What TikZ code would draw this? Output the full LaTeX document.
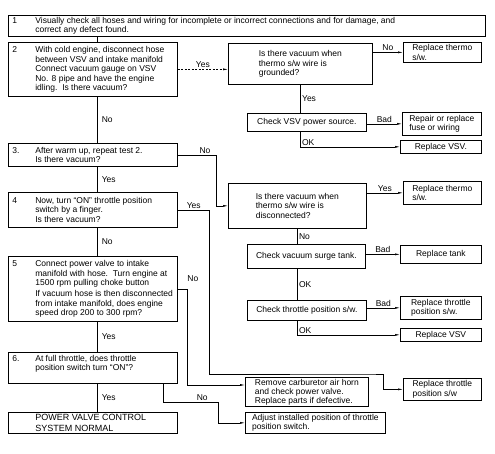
\documentclass[tikz,border=0pt]{standalone}
\usepackage{fontspec}
\setmainfont{Liberation Sans}
\usetikzlibrary{arrows.meta}
\usetikzlibrary{positioning}

\newcommand{\numtext}[3]{\makebox[23pt][l]{#1}\parbox[t]{#2}{#3}}

\begin{document}
\begin{tikzpicture}[x=1pt,y=-1pt]
	\tikzset{stepbox/.style = {draw, line width=0.7pt, anchor=north west,
			inner xsep=4pt, inner ysep=0pt, font=\fontsize{8.5}{9.5}\selectfont}}
	\tikzset{checkbox/.style = {draw, line width=0.7pt, anchor=north west,
			align=left, inner xsep=0pt, inner ysep=1.5pt, font=\fontsize{8.5}{9.5}\selectfont}}
	\tikzset{link/.style = {line width=0.5pt}}
	\tikzset{edge/.style = {link, -{Latex[length=5pt,width=2pt]}}}
	\tikzset{lbl/.style = {font=\fontsize{8.5}{9.5}\selectfont, inner sep=1.5pt}}
	
	\useasboundingbox (0,0) rectangle (495,453);
	
	% steps
	\node[stepbox, minimum width=477pt, minimum height=21pt] (s1) at (8,15)
	{\numtext{1}{446pt}{Visually check all hoses and wiring for incomplete or incorrect connections and for damage, and\\ correct any defect found.}};
	\node[stepbox, minimum width=169pt, minimum height=54pt] (s2) at (8,42)
	{\numtext{2}{138pt}{With cold engine, disconnect hose\\ between VSV and intake manifold\\ Connect vacuum gauge on VSV\\ No. 8 pipe and have the engine\\ idling.\ \ Is there vacuum?}};
	\node[stepbox, minimum width=169pt, minimum height=23pt] (s3) at (8,143)
	{\numtext{3.}{138pt}{After warm up, repeat test 2.\\ Is there vacuum?}};
	\node[stepbox, minimum width=169pt, minimum height=35pt] (s4) at (8,192)
	{\numtext{4}{138pt}{Now, turn ``ON'' throttle position\\ switch by a finger.\\ Is there vacuum?}};
	\node[stepbox, minimum width=169pt, minimum height=65pt] (s5) at (8,256)
	{\numtext{5}{138pt}{Connect power valve to intake\\ manifold with hose.\ \ Turn engine at\\ 1500 rpm pulling choke button\\[1.5pt] If vacuum hose is then disconnected\\ from intake manifold, does engine\\ speed drop 200 to 300 rpm?}};
	\node[stepbox, minimum width=169pt, minimum height=31pt] (s6) at (8,352)
	{\numtext{6.}{138pt}{At full throttle, does throttle\\ position switch turn ``ON''?\\ \mbox{}}};
	\node[stepbox, minimum width=169pt, minimum height=21pt] (s7) at (8,412)
	{\numtext{}{138pt}{\fontsize{9}{10.5}\selectfont POWER VALVE CONTROL\\ SYSTEM NORMAL}};
	
	% checks and repairs
	\node[checkbox, minimum width=144pt, minimum height=41pt] (g) at (228,43)
	{Is there vacuum when\\ thermo s/w wire is\\ grounded?};
	\node[checkbox, minimum width=78pt, minimum height=20pt] (rt1) at (403,42)
	{Replace thermo\\ s/w.};
	\node[checkbox, minimum width=119pt, minimum height=18pt] (cv) at (247,113)
	{Check VSV power source.};
	\node[checkbox, minimum width=79pt, minimum height=23pt] (rp) at (402,112)
	{Repair or replace\\ fuse or wiring};
	\node[checkbox, minimum width=81pt, minimum height=13pt] (rv1) at (400,140)
	{Replace VSV.};
	\node[checkbox, minimum width=138pt, minimum height=45pt] (d) at (228,183)
	{Is there vacuum when\\ thermo s/w wire is\\ disconnected?};
	\node[checkbox, minimum width=78pt, minimum height=23pt] (rt2) at (403,181)
	{Replace thermo\\ s/w.};
	\node[checkbox, minimum width=118pt, minimum height=24pt] (ct) at (247,244)
	{Check vacuum surge tank.};
	\node[checkbox, minimum width=81pt, minimum height=18pt] (rk) at (400,245)
	{Replace tank};
	\node[checkbox, minimum width=119pt, minimum height=20pt] (cp) at (247,300)
	{Check throttle position s/w.};
	\node[checkbox, minimum width=81pt, minimum height=23pt] (rp1) at (400,296)
	{Replace throttle\\ position s/w.};
	\node[checkbox, minimum width=81pt, minimum height=13pt] (rv2) at (400,328)
	{Replace VSV};
	\node[checkbox, minimum width=123pt, minimum height=29pt,
	font=\fontsize{8.5}{9}\selectfont] (rc) at (245,377)
	{Remove carburetor air horn\\ and check power valve.\\ Replace parts if defective.};
	\node[checkbox, minimum width=78pt, minimum height=22pt] (rp2) at (403,378)
	{Replace throttle\\ position s/w};
	\node[checkbox, minimum width=140pt, minimum height=21pt] (ad) at (245,412)
	{Adjust installed position of throttle\\ position switch.};
	
	% edges
	\coordinate (spine) at (97,0);
	\draw[link] (spine |- s1.south) -- (spine |- s2.north);
	\draw[link] (spine |- s2.south) -- node[lbl, right=3pt] {No} (spine |- s3.north);
	\draw[link] (spine |- s3.south) -- node[lbl, right=3pt] {Yes} (spine |- s4.north);
	\draw[link] (spine |- s4.south) -- node[lbl, right=3pt] {No} (spine |- s5.north);
	\draw[link] (spine |- s5.south) -- node[lbl, right=3pt] {Yes} (spine |- s6.north);
	\draw[link] (spine |- s6.south) -- node[lbl, right=3pt] {Yes} (spine |- s7.north);
	
	\draw[edge, dash pattern=on 2pt off 1.5pt] (s2.east) -- node[lbl, above] {Yes} (s2.east -| g.west);
	\draw[edge] (rt1.west -| g.east) -- node[lbl, above] {No} (rt1.west);
	\draw[link] (g.south) -- node[lbl, right] {Yes} (g.south |- cv.north);
	\draw[edge] (rp.west -| cv.east) -- node[lbl, above] {Bad} (rp.west);
	\draw[edge] (g.south |- cv.south) |- node[lbl, above right, pos=0.5] {OK} (rv1.west);
	
	\draw[edge] (s3.east) -- node[lbl, above, pos=0.7] {No} ++(39,0) |- (d.west);
	\draw[edge] (rt2.west -| d.east) -- node[lbl, above] {Yes} (rt2.west);
	\draw[link] (d.south) -- node[lbl, right] {No} (d.south |- ct.north);
	\draw[edge] (rk.west -| ct.east) -- node[lbl, above] {Bad} (rk.west);
	\draw[link] (d.south |- ct.south) -- node[lbl, right] {OK} (d.south |- cp.north);
	\draw[edge] (rp1.west -| cp.east) -- node[lbl, above] {Bad} (rp1.west);
	\draw[edge] (d.south |- cp.south) |- node[lbl, above right, pos=0.5] {OK} (rv2.west);
	
	\draw[edge] (s4.east) -- node[lbl, above] {Yes} ++(32,0)
	|- ([yshift=3pt]rc.north east) -- ++(15,0) |- (rp2.west);
	\draw[edge] (s5.east) -- ++(10,0) node[lbl, anchor=south west, xshift=-2pt, yshift=6pt] {No}
	|- ([yshift=-8pt]rc.north west);
	\draw[edge] ([xshift=-14pt]s6.south east) -- ++(0,19)
	-- node[lbl, above, pos=0.7] {No} ++(55,0) |- (ad.west);
	
\end{tikzpicture}
\end{document}
